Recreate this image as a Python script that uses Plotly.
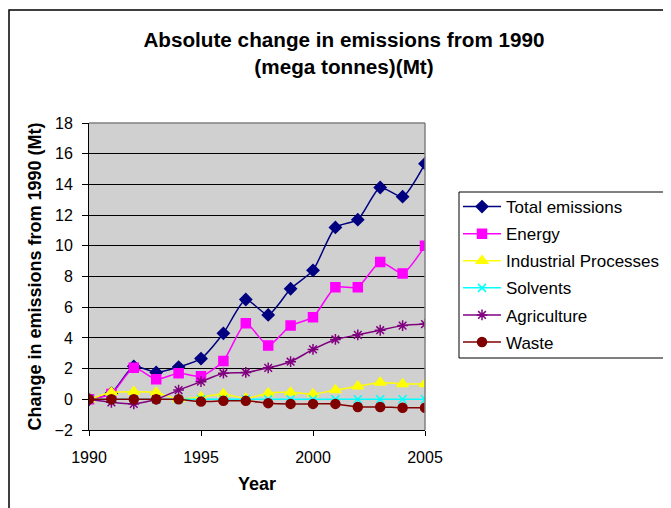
import plotly.graph_objects as go

years = list(range(1990, 2006))
total = [0, 0.4, 2.15, 1.75, 2.1, 2.65, 4.3, 6.5, 5.5, 7.2, 8.4, 11.2, 11.7, 13.8, 13.2, 15.35]
energy = [0, 0.35, 2.05, 1.3, 1.7, 1.5, 2.5, 4.95, 3.5, 4.8, 5.35, 7.3, 7.3, 8.95, 8.2, 10.0]
industrial = [0, 0.45, 0.5, 0.45, 0.0, 0.15, 0.35, 0.05, 0.4, 0.45, 0.35, 0.6, 0.85, 1.1, 1.0, 1.0]
solvents = [0] * 16
agriculture = [0, -0.2, -0.3, 0, 0.6, 1.15, 1.7, 1.75, 2.05, 2.45, 3.25, 3.9, 4.2, 4.5, 4.8, 4.9]
waste = [0, 0, 0, 0, 0, -0.15, -0.1, -0.1, -0.25, -0.3, -0.3, -0.3, -0.5, -0.5, -0.55, -0.55]

series = [
    ("Total emissions", total, "#000080", "diamond", 9),
    ("Energy", energy, "#FF00FF", "square", 9),
    ("Industrial Processes", industrial, "#FFFF00", "triangle-up", 10),
    ("Solvents", solvents, "#00FFFF", "x-thin-open", 8),
    ("Agriculture", agriculture, "#800080", "asterisk-open", 9),
    ("Waste", waste, "#800000", "circle", 9),
]

fig = go.Figure()
for name, vals, col, sym, sz in series:
    fig.add_trace(go.Scatter(
        x=years, y=vals, name=name, mode="lines+markers",
        line=dict(color=col, width=1.5, shape="spline", smoothing=0.6),
        marker=dict(symbol=sym, size=sz, color=col, line=dict(color=col, width=1.5)),
        legendgroup=name,
    ))

# page has an 8px body margin; work in window pixels, convert to figure pixels
OFF = 8
W, H = 671 - OFF, 508 - OFF
L, R, T, B = 89 - OFF, 425 - OFF, 123 - OFF, 430 - OFF
pw, ph = R - L, B - T
def px(x):
    return (x - OFF - L) / pw
def py(y):
    return (B - (y - OFF)) / ph

fig.update_layout(
    width=W, height=H,
    margin=dict(l=L, r=W - R, t=T, b=H - B),
    paper_bgcolor="white",
    plot_bgcolor="#D0D0D0",
    font=dict(family="Liberation Sans, Arial", size=16, color="black"),
    title=dict(
        text="<b>Absolute change in emissions from 1990<br>(mega tonnes)(Mt)</b>",
        x=px(344), xref="paper", xanchor="center",
        y=1 - (47 - OFF) / H, yanchor="middle",
        font=dict(size=20.7, family="Liberation Sans, Arial"),
    ),
    xaxis=dict(
        range=[1990, 2005], dtick=5, tick0=1990,
        showline=True, linecolor="black", linewidth=1,
        ticks="outside", ticklen=5, tickcolor="black",
        ticklabelstandoff=8,
        showgrid=False, zeroline=False,
        title=dict(text="<b>Year</b>", font=dict(size=18), standoff=12),
    ),
    yaxis=dict(
        range=[-2, 18], dtick=2,
        showline=True, linecolor="black", linewidth=1,
        ticks="outside", ticklen=6, tickcolor="black",
        ticklabelstandoff=6,
        showgrid=True, gridcolor="black", gridwidth=1,
        zeroline=False,
        title=dict(text="<b>Change in emissions from 1990 (Mt)</b>", font=dict(size=18), standoff=8),
    ),
    legend=dict(
        xref="container", yref="container",
        x=(458 - OFF) / W, y=1 - (189 - OFF) / H, xanchor="left", yanchor="top",
        borderwidth=0, bgcolor="rgba(0,0,0,0)",
        font=dict(size=17), tracegroupgap=2,
        itemwidth=38,
    ),
    shapes=[
        dict(type="rect", xref="paper", yref="paper",
             x0=px(9), x1=px(668), y0=py(540), y1=py(10),
             line=dict(color="black", width=1.5), layer="below"),
        dict(type="line", xref="paper", yref="paper",
             x0=0, x1=1, y0=1, y1=1, line=dict(color="#808080", width=1.5)),
        dict(type="line", xref="paper", yref="paper",
             x0=1, x1=1, y0=0, y1=1, line=dict(color="#808080", width=1.5)),
        dict(type="rect", xref="paper", yref="paper",
             x0=px(459), x1=px(668), y0=py(358), y1=py(192),
             line=dict(color="black", width=1), fillcolor="white", layer="above"),
    ],
)

fig.write_html("out.html")
